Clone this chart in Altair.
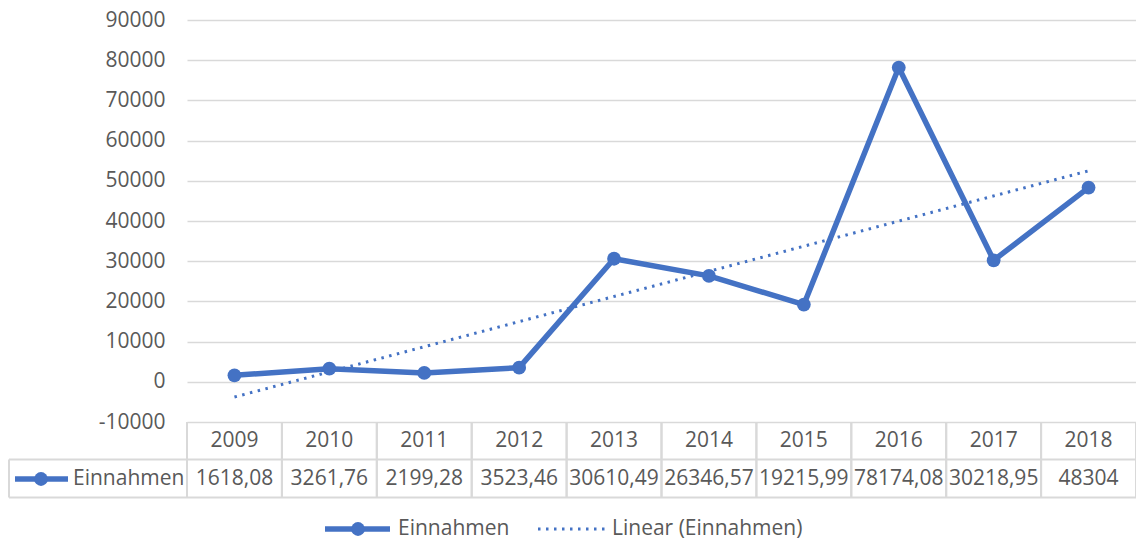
import altair as alt
import pandas as pd

# ---- data ----
years = [2009, 2010, 2011, 2012, 2013, 2014, 2015, 2016, 2017, 2018]
einnahmen = [1618.08, 3261.76, 2199.28, 3523.46, 30610.49, 26346.57,
             19215.99, 78174.08, 30218.95, 48304]
y_ticks = list(range(-10000, 90001, 10000))
series_name = "Einnahmen"
trend_name = "Linear (Einnahmen)"


def de(v):
    s = f"{v:.2f}".rstrip("0").rstrip(".")
    return s.replace(".", ",")


df = pd.DataFrame({"year": years, "value": einnahmen,
                   "label": [de(v) for v in einnahmen]})
one = pd.DataFrame({"k": [0]})

# ---- style ----
BLUE = "#4472C4"
TXT = "#595959"
GRID = "#D9D9D9"
FONT = "Open Sans"
FS = 21
PAD_L = 179
W, H = 949, 402

x = alt.X("year:Q", scale=alt.Scale(domain=[2008.5, 2018.5], nice=False, zero=False), axis=None)
y = alt.Y("value:Q", scale=alt.Scale(domain=[-10000, 90000], nice=False, zero=False),
          axis=alt.Axis(values=y_ticks, title=None, domain=False, ticks=False,
                        labelPadding=22, labelFontSize=FS, labelFont=FONT,
                        labelColor=TXT, gridColor=GRID, gridWidth=1.5,
                        labelExpr="datum.value + ''"))

base = alt.Chart(df)

line = base.mark_line(color=BLUE, strokeWidth=5.5, strokeJoin="round").encode(x=x, y=y)
pts = base.mark_circle(size=190, color=BLUE, opacity=1).encode(x=x, y="value:Q")
trend = base.transform_regression("year", "value").mark_line(
    color=BLUE, strokeWidth=3, strokeDash=[2.5, 5.5]).encode(x="year:Q", y="value:Q")

# ---- data table ----
ROW1_TOP, ROW_MID, ROW2_BOT = H, 439.5, 477.5
HDR_Y, VAL_Y = 421, 459
LEFT = -PAD_L + 1

txt_kw = dict(font=FONT, fontSize=FS, color=TXT, baseline="middle")
hdr = base.mark_text(**txt_kw).encode(x="year:Q", y=alt.value(HDR_Y), text="year:N")
vals = base.mark_text(**txt_kw).encode(x="year:Q", y=alt.value(VAL_Y), text="label:N")

vl = base.transform_calculate(edge="datum.year - 0.5").mark_rule(color=GRID, strokeWidth=2).encode(
    x="edge:Q", y=alt.value(ROW1_TOP), y2=alt.value(ROW2_BOT))
vr = base.transform_calculate(edge="datum.year + 0.5").mark_rule(color=GRID, strokeWidth=2).encode(
    x="edge:Q", y=alt.value(ROW1_TOP), y2=alt.value(ROW2_BOT))

c1 = alt.Chart(one)
hmid = c1.mark_rule(color=GRID, strokeWidth=2).encode(x=alt.value(LEFT), x2=alt.value(W), y=alt.value(ROW_MID))
hbot = c1.mark_rule(color=GRID, strokeWidth=2).encode(x=alt.value(LEFT), x2=alt.value(W), y=alt.value(ROW2_BOT))
vleft = c1.mark_rule(color=GRID, strokeWidth=2).encode(x=alt.value(LEFT), y=alt.value(ROW_MID), y2=alt.value(ROW2_BOT))

layers = [line, pts, trend, vl, vr, hmid, hbot, vleft, hdr, vals]


def key_line(x0, x1, yy, cx):
    layers.append(c1.mark_rule(color=BLUE, strokeWidth=5.5).encode(
        x=alt.value(x0), x2=alt.value(x1), y=alt.value(yy)))
    layers.append(c1.mark_circle(size=190, color=BLUE, opacity=1).encode(
        x=alt.value(cx), y=alt.value(yy)))


def key_text(x0, yy, t):
    layers.append(c1.mark_text(align="left", **txt_kw).encode(
        x=alt.value(x0), y=alt.value(yy), text=alt.value(t)))


key_line(-172, -119, VAL_Y, -146)
key_text(-114, VAL_Y, series_name)

# ---- bottom legend ----
LEG_Y = 509
key_line(138, 203, LEG_Y, 171)
key_text(211, LEG_Y, series_name)
layers.append(c1.mark_rule(color=BLUE, strokeWidth=3, strokeDash=[2.5, 5.5]).encode(
    x=alt.value(351), x2=alt.value(419), y=alt.value(LEG_Y)))
key_text(425, LEG_Y, trend_name)

chart = alt.layer(*layers).properties(
    width=W, height=H,
    autosize=alt.AutoSizeParams(type="none"),
    padding={"left": PAD_L, "top": 12, "right": 0, "bottom": 116},
    background="white",
).configure_view(strokeWidth=0)

chart.save("out.html", embed_options={"renderer": "svg", "actions": False})
